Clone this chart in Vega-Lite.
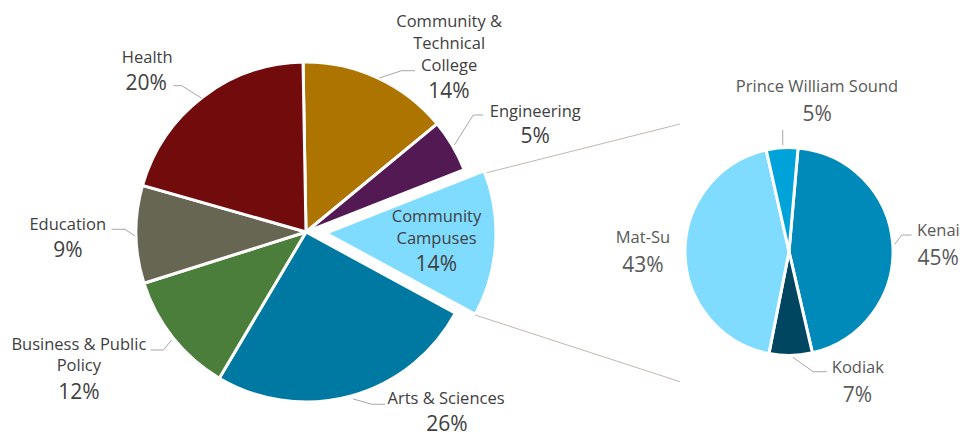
{
  "$schema": "https://vega.github.io/schema/vega-lite/v6.json",
  "width": 974,
  "height": 437,
  "padding": 0,
  "autosize": {"type": "none"},
  "background": "#ffffff",
  "config": {"view": {"stroke": null}, "axis": {"disable": true}, "text": {"font": "Open Sans"}},
  "datasets": {
    "main": [
      {"name": "Community & Technical College", "label": "Community &\nTechnical\nCollege", "share": 0.143, "ord": 1},
      {"name": "Engineering", "label": "Engineering", "share": 0.05, "ord": 2},
      {"name": "Community Campuses", "label": "Community\nCampuses", "share": 0.139, "ord": 3},
      {"name": "Arts & Sciences", "label": "Arts & Sciences", "share": 0.256, "ord": 4},
      {"name": "Business & Public Policy", "label": "Business & Public\nPolicy", "share": 0.116, "ord": 5},
      {"name": "Education", "label": "Education", "share": 0.093, "ord": 6},
      {"name": "Health", "label": "Health", "share": 0.203, "ord": 7}
    ],
    "sub": [
      {"name": "Kenai", "label": "Kenai", "share": 0.45, "ord": 1},
      {"name": "Kodiak", "label": "Kodiak", "share": 0.067, "ord": 2},
      {"name": "Mat-Su", "label": "Mat-Su", "share": 0.434, "ord": 3},
      {"name": "Prince William Sound", "label": "Prince William Sound", "share": 0.049, "ord": 4}
    ]
  },
  "layer": [
    {
      "data": {"name": "main"},
      "encoding": {
        "x": {"datum": 31.417, "type": "quantitative", "scale": {"domain": [0, 100], "nice": false, "zero": false}, "axis": null},
        "y": {"datum": 53.089, "type": "quantitative", "scale": {"domain": [0, 100], "nice": false, "zero": false, "reverse": true}, "axis": null},
        "theta": {"field": "share", "type": "quantitative", "stack": true, "scale": {"domain": [0, 1], "range": [-0.01745, 6.26573]}},
        "order": {"field": "ord", "type": "quantitative"},
        "color": {"field": "name", "type": "nominal", "legend": null,
          "scale": {"domain": ["Community & Technical College", "Engineering", "Community Campuses", "Arts & Sciences", "Business & Public Policy", "Education", "Health", "Kenai", "Kodiak", "Mat-Su", "Prince William Sound"],
                    "range": ["#AD7500", "#531953", "#7FDCFF", "#0079A2", "#4B7D3B", "#676652", "#720B0C", "#008AB9", "#004660", "#7FDCFF", "#00A2DA"]}}
      },
      "layer": [
        {"mark": {"type": "arc", "radius": 170, "stroke": "#ffffff", "strokeWidth": 3},
         "encoding": {"opacity": {"condition": {"test": "datum.name === 'Community Campuses'", "value": 0}, "value": 1}}},
        {"mark": {"type": "arc", "radius": 170, "stroke": "#ffffff", "strokeWidth": 3},
         "encoding": {"x": {"datum": 33.47, "type": "quantitative"}, "y": {"datum": 53.364, "type": "quantitative"},
                      "opacity": {"condition": {"test": "datum.name === 'Community Campuses'", "value": 1}, "value": 0}}}
      ]
    },
    {
      "data": {"name": "sub"},
      "mark": {"type": "arc", "radius": 104, "stroke": "#ffffff", "strokeWidth": 3},
      "encoding": {
        "x": {"datum": 81.006, "type": "quantitative"},
        "y": {"datum": 57.551, "type": "quantitative"},
        "theta": {"field": "share", "type": "quantitative", "stack": true, "scale": {"domain": [0, 1], "range": [0.08727, 6.37045]}},
        "order": {"field": "ord", "type": "quantitative"},
        "color": {"field": "name", "type": "nominal", "legend": null}
      }
    },
    {
      "data": {"values": [{}]},
      "layer": [
        {"mark": {"type": "rule", "color": "#A6A6A6", "strokeWidth": 1}, "encoding": {"x": {"datum": 17.79, "type": "quantitative"}, "x2": {"datum": 18.66}, "y": {"datum": 19.61, "type": "quantitative"}, "y2": {"datum": 19.61}}},
        {"mark": {"type": "rule", "color": "#A6A6A6", "strokeWidth": 1}, "encoding": {"x": {"datum": 18.66, "type": "quantitative"}, "x2": {"datum": 20.71}, "y": {"datum": 19.61, "type": "quantitative"}, "y2": {"datum": 22.49}}},
        {"mark": {"type": "rule", "color": "#A6A6A6", "strokeWidth": 1}, "encoding": {"x": {"datum": 11.47, "type": "quantitative"}, "x2": {"datum": 12.83}, "y": {"datum": 52.47, "type": "quantitative"}, "y2": {"datum": 52.47}}},
        {"mark": {"type": "rule", "color": "#A6A6A6", "strokeWidth": 1}, "encoding": {"x": {"datum": 12.83, "type": "quantitative"}, "x2": {"datum": 13.86}, "y": {"datum": 52.47, "type": "quantitative"}, "y2": {"datum": 54.0}}},
        {"mark": {"type": "rule", "color": "#A6A6A6", "strokeWidth": 1}, "encoding": {"x": {"datum": 15.47, "type": "quantitative"}, "x2": {"datum": 16.77}, "y": {"datum": 80.09, "type": "quantitative"}, "y2": {"datum": 80.09}}},
        {"mark": {"type": "rule", "color": "#A6A6A6", "strokeWidth": 1}, "encoding": {"x": {"datum": 16.77, "type": "quantitative"}, "x2": {"datum": 17.63}, "y": {"datum": 80.09, "type": "quantitative"}, "y2": {"datum": 77.8}}},
        {"mark": {"type": "rule", "color": "#A6A6A6", "strokeWidth": 1}, "encoding": {"x": {"datum": 38.94, "type": "quantitative"}, "x2": {"datum": 41.24}, "y": {"datum": 17.85, "type": "quantitative"}, "y2": {"datum": 16.18}}},
        {"mark": {"type": "rule", "color": "#A6A6A6", "strokeWidth": 1}, "encoding": {"x": {"datum": 41.24, "type": "quantitative"}, "x2": {"datum": 42.61}, "y": {"datum": 16.18, "type": "quantitative"}, "y2": {"datum": 16.18}}},
        {"mark": {"type": "rule", "color": "#A6A6A6", "strokeWidth": 1}, "encoding": {"x": {"datum": 46.64, "type": "quantitative"}, "x2": {"datum": 48.59}, "y": {"datum": 33.18, "type": "quantitative"}, "y2": {"datum": 26.32}}},
        {"mark": {"type": "rule", "color": "#A6A6A6", "strokeWidth": 1}, "encoding": {"x": {"datum": 48.59, "type": "quantitative"}, "x2": {"datum": 49.62}, "y": {"datum": 26.32, "type": "quantitative"}, "y2": {"datum": 26.32}}},
        {"mark": {"type": "rule", "color": "#A6A6A6", "strokeWidth": 1}, "encoding": {"x": {"datum": 36.27, "type": "quantitative"}, "x2": {"datum": 38.16}, "y": {"datum": 91.3, "type": "quantitative"}, "y2": {"datum": 92.5}}},
        {"mark": {"type": "rule", "color": "#A6A6A6", "strokeWidth": 1}, "encoding": {"x": {"datum": 38.16, "type": "quantitative"}, "x2": {"datum": 39.53}, "y": {"datum": 92.5, "type": "quantitative"}, "y2": {"datum": 92.5}}},
        {"mark": {"type": "rule", "color": "#A6A6A6", "strokeWidth": 1}, "encoding": {"x": {"datum": 80.36, "type": "quantitative"}, "x2": {"datum": 80.36}, "y": {"datum": 29.75, "type": "quantitative"}, "y2": {"datum": 33.18}}},
        {"mark": {"type": "rule", "color": "#A6A6A6", "strokeWidth": 1}, "encoding": {"x": {"datum": 91.89, "type": "quantitative"}, "x2": {"datum": 92.58}, "y": {"datum": 55.84, "type": "quantitative"}, "y2": {"datum": 53.78}}},
        {"mark": {"type": "rule", "color": "#A6A6A6", "strokeWidth": 1}, "encoding": {"x": {"datum": 92.58, "type": "quantitative"}, "x2": {"datum": 93.6}, "y": {"datum": 53.78, "type": "quantitative"}, "y2": {"datum": 53.78}}},
        {"mark": {"type": "rule", "color": "#A6A6A6", "strokeWidth": 1}, "encoding": {"x": {"datum": 81.39, "type": "quantitative"}, "x2": {"datum": 83.5}, "y": {"datum": 81.76, "type": "quantitative"}, "y2": {"datum": 85.06}}},
        {"mark": {"type": "rule", "color": "#A6A6A6", "strokeWidth": 1}, "encoding": {"x": {"datum": 83.5, "type": "quantitative"}, "x2": {"datum": 84.88}, "y": {"datum": 85.06, "type": "quantitative"}, "y2": {"datum": 85.06}}},
        {"mark": {"type": "rule", "color": "#BFB8AF", "strokeWidth": 1}, "encoding": {"x": {"datum": 49.97, "type": "quantitative"}, "x2": {"datum": 69.82}, "y": {"datum": 39.52, "type": "quantitative"}, "y2": {"datum": 28.38}}},
        {"mark": {"type": "rule", "color": "#BFB8AF", "strokeWidth": 1}, "encoding": {"x": {"datum": 48.77, "type": "quantitative"}, "x2": {"datum": 69.82}, "y": {"datum": 72.08, "type": "quantitative"}, "y2": {"datum": 87.35}}}
      ]
    },
    {
      "data": {"name": "main"},
      "encoding": {
        "x": {"datum": 31.417, "type": "quantitative"},
        "y": {"datum": 53.089, "type": "quantitative"},
        "theta": {"field": "share", "type": "quantitative", "stack": true, "scale": {"domain": [0, 1], "range": [-0.01745, 6.26573]}},
        "order": {"field": "ord", "type": "quantitative"},
        "detail": {"field": "name", "type": "nominal"}
      },
      "layer": [
        {"mark": {"type": "text", "radius": 250.2, "thetaOffset": 0.1773, "fontSize": 16.5, "lineHeight": 22, "lineBreak": "\n", "color": "#404040", "align": "center", "baseline": "alphabetic"},
         "encoding": {"text": {"condition": {"test": "datum.name === 'Community & Technical College'", "field": "label"}, "value": ""}}},
        {"mark": {"type": "text", "radius": 256.7, "thetaOffset": 0.0663, "fontSize": 16.5, "lineHeight": 22, "lineBreak": "\n", "color": "#404040", "align": "center", "baseline": "alphabetic"},
         "encoding": {"text": {"condition": {"test": "datum.name === 'Engineering'", "field": "label"}, "value": ""}}},
        {"mark": {"type": "text", "radius": 130.9, "thetaOffset": -0.1396, "fontSize": 16.5, "lineHeight": 22, "lineBreak": "\n", "color": "#404040", "align": "center", "baseline": "alphabetic"},
         "encoding": {"text": {"condition": {"test": "datum.name === 'Community Campuses'", "field": "label"}, "value": ""}}},
        {"mark": {"type": "text", "radius": 221.8, "thetaOffset": -0.4143, "fontSize": 16.5, "lineHeight": 22, "lineBreak": "\n", "color": "#404040", "align": "center", "baseline": "alphabetic"},
         "encoding": {"text": {"condition": {"test": "datum.name === 'Arts & Sciences'", "field": "label"}, "value": ""}}},
        {"mark": {"type": "text", "radius": 256.2, "thetaOffset": 0.1902, "fontSize": 16.5, "lineHeight": 21, "lineBreak": "\n", "color": "#404040", "align": "center", "baseline": "alphabetic"},
         "encoding": {"text": {"condition": {"test": "datum.name === 'Business & Public Policy'", "field": "label"}, "value": ""}}},
        {"mark": {"type": "text", "radius": 238.3, "thetaOffset": 0.0244, "fontSize": 16.5, "lineHeight": 22, "lineBreak": "\n", "color": "#404040", "align": "center", "baseline": "alphabetic"},
         "encoding": {"text": {"condition": {"test": "datum.name === 'Education'", "field": "label"}, "value": ""}}},
        {"mark": {"type": "text", "radius": 231.8, "thetaOffset": -0.0995, "fontSize": 16.5, "lineHeight": 22, "lineBreak": "\n", "color": "#404040", "align": "center", "baseline": "alphabetic"},
         "encoding": {"text": {"condition": {"test": "datum.name === 'Health'", "field": "label"}, "value": ""}}},
        {"mark": {"type": "text", "radius": 196.2, "thetaOffset": 0.385, "fontSize": 21, "color": "#404040", "align": "center", "baseline": "alphabetic"},
         "encoding": {"text": {"condition": {"test": "datum.name === 'Community & Technical College'", "field": "share", "type": "quantitative", "format": ".0%"}, "value": ""}}},
        {"mark": {"type": "text", "radius": 246.1, "thetaOffset": 0.1606, "fontSize": 21, "color": "#404040", "align": "center", "baseline": "alphabetic"},
         "encoding": {"text": {"condition": {"test": "datum.name === 'Engineering'", "field": "share", "type": "quantitative", "format": ".0%"}, "value": ""}}},
        {"mark": {"type": "text", "radius": 135.9, "thetaOffset": 0.2269, "fontSize": 21, "color": "#404040", "align": "center", "baseline": "alphabetic"},
         "encoding": {"text": {"condition": {"test": "datum.name === 'Community Campuses'", "field": "share", "type": "quantitative", "format": ".0%"}, "value": ""}}},
        {"mark": {"type": "text", "radius": 243.8, "thetaOffset": -0.347, "fontSize": 21, "color": "#404040", "align": "center", "baseline": "alphabetic"},
         "encoding": {"text": {"condition": {"test": "datum.name === 'Arts & Sciences'", "field": "share", "type": "quantitative", "format": ".0%"}, "value": ""}}},
        {"mark": {"type": "text", "radius": 282.0, "thetaOffset": 0.0367, "fontSize": 21, "color": "#404040", "align": "center", "baseline": "alphabetic"},
         "encoding": {"text": {"condition": {"test": "datum.name === 'Business & Public Policy'", "field": "share", "type": "quantitative", "format": ".0%"}, "value": ""}}},
        {"mark": {"type": "text", "radius": 239.3, "thetaOffset": -0.089, "fontSize": 21, "color": "#404040", "align": "center", "baseline": "alphabetic"},
         "encoding": {"text": {"condition": {"test": "datum.name === 'Education'", "field": "share", "type": "quantitative", "format": ".0%"}, "value": ""}}},
        {"mark": {"type": "text", "radius": 213.9, "thetaOffset": -0.1885, "fontSize": 21, "color": "#404040", "align": "center", "baseline": "alphabetic"},
         "encoding": {"text": {"condition": {"test": "datum.name === 'Health'", "field": "share", "type": "quantitative", "format": ".0%"}, "value": ""}}}
      ]
    },
    {
      "data": {"name": "sub"},
      "encoding": {
        "x": {"datum": 81.006, "type": "quantitative"},
        "y": {"datum": 57.551, "type": "quantitative"},
        "theta": {"field": "share", "type": "quantitative", "stack": true, "scale": {"domain": [0, 1], "range": [0.08727, 6.37045]}},
        "order": {"field": "ord", "type": "quantitative"},
        "detail": {"field": "name", "type": "nominal"}
      },
      "layer": [
        {"mark": {"type": "text", "radius": 150.1, "thetaOffset": -0.0332, "fontSize": 16.5, "color": "#595959", "align": "center", "baseline": "alphabetic"},
         "encoding": {"text": {"condition": {"test": "datum.name === 'Kenai'", "field": "label"}, "value": ""}}},
        {"mark": {"type": "text", "radius": 139.9, "thetaOffset": -0.4983, "fontSize": 16.5, "color": "#595959", "align": "center", "baseline": "alphabetic"},
         "encoding": {"text": {"condition": {"test": "datum.name === 'Kodiak'", "field": "label"}, "value": ""}}},
        {"mark": {"type": "text", "radius": 146.3, "thetaOffset": 0.0724, "fontSize": 16.5, "color": "#595959", "align": "center", "baseline": "alphabetic"},
         "encoding": {"text": {"condition": {"test": "datum.name === 'Mat-Su'", "field": "label"}, "value": ""}}},
        {"mark": {"type": "text", "radius": 161.6, "thetaOffset": 0.2409, "fontSize": 16.5, "color": "#595959", "align": "center", "baseline": "alphabetic"},
         "encoding": {"text": {"condition": {"test": "datum.name === 'Prince William Sound'", "field": "label"}, "value": ""}}},
        {"mark": {"type": "text", "radius": 149.9, "thetaOffset": 0.1606, "fontSize": 21, "color": "#595959", "align": "center", "baseline": "alphabetic"},
         "encoding": {"text": {"condition": {"test": "datum.name === 'Kenai'", "field": "share", "type": "quantitative", "format": ".0%"}, "value": ""}}},
        {"mark": {"type": "text", "radius": 165.6, "thetaOffset": -0.4101, "fontSize": 21, "color": "#595959", "align": "center", "baseline": "alphabetic"},
         "encoding": {"text": {"condition": {"test": "datum.name === 'Kodiak'", "field": "share", "type": "quantitative", "format": ".0%"}, "value": ""}}},
        {"mark": {"type": "text", "radius": 147.4, "thetaOffset": -0.1257, "fontSize": 21, "color": "#595959", "align": "center", "baseline": "alphabetic"},
         "encoding": {"text": {"condition": {"test": "datum.name === 'Mat-Su'", "field": "share", "type": "quantitative", "format": ".0%"}, "value": ""}}},
        {"mark": {"type": "text", "radius": 133.5, "thetaOffset": 0.2793, "fontSize": 21, "color": "#595959", "align": "center", "baseline": "alphabetic"},
         "encoding": {"text": {"condition": {"test": "datum.name === 'Prince William Sound'", "field": "share", "type": "quantitative", "format": ".0%"}, "value": ""}}}
      ]
    }
  ],
  "resolve": {"scale": {"theta": "independent"}}
}
